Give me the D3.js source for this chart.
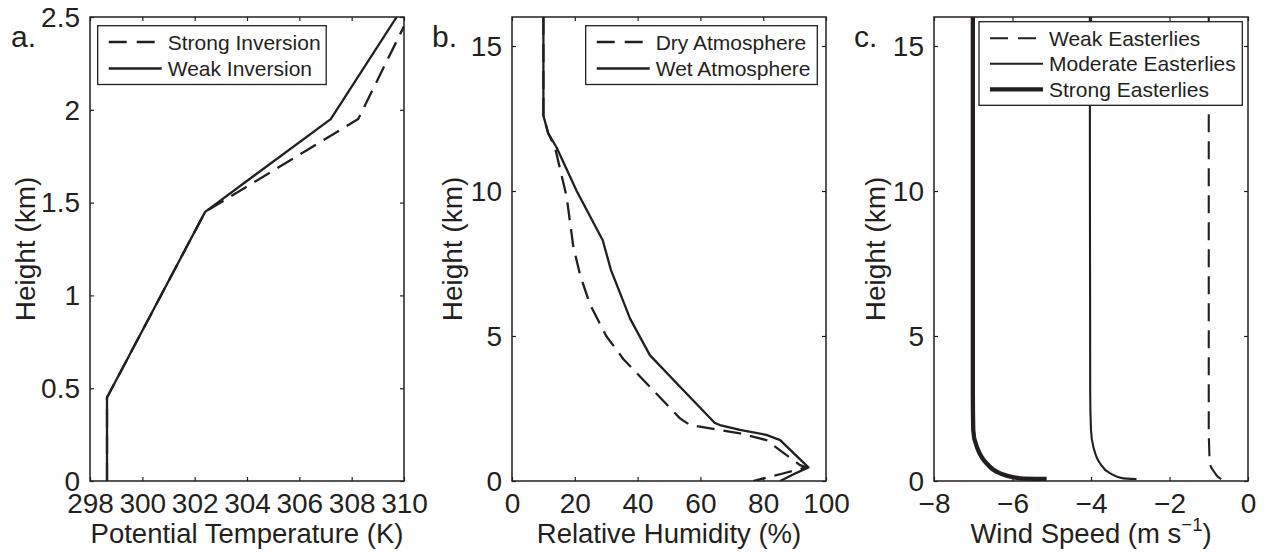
<!DOCTYPE html>
<html>
<head>
<meta charset="utf-8">
<script src="https://cdn.jsdelivr.net/npm/d3@7"></script>
<style>
  body { margin: 0; background: #fff; }
  svg text { font-family: "Liberation Sans", Arial, Helvetica, sans-serif; fill: #231f20; }
</style>
</head>
<body>
<div id="chart"></div>
<script>
// ---- data ----
// a. potential temperature profiles
const strongInvTheta = [298.65, 298.65, 302.4, 308.25, 310.0];
const strongInvZ     = [0, 0.45, 1.45, 1.95, 2.45];
const weakInvTheta   = [298.65, 298.65, 302.4, 307.2, 309.72];
const weakInvZ       = [0, 0.45, 1.45, 1.95, 2.5];
const thetaTicks = [298, 300, 302, 304, 306, 308, 310];
const thetaZTicks = [0, 0.5, 1, 1.5, 2, 2.5];

// b. relative humidity profiles
const dryZ  = [16, 12.6, 12.0, 11.5, 9.8, 8.1, 7.1, 6.1, 5.0, 4.2, 3.25, 2.16, 1.93, 1.64, 1.41, 0.55, 0.47, 0.25, 0];
const dryRH = [10, 10, 11.5, 13.7, 17.4, 19.5, 21.7, 24.8, 30.0, 35.5, 43.9, 53.5, 56.7, 72.6, 81.0, 91.7, 93.8, 86.0, 76.8];
const wetZ  = [16, 12.6, 12.0, 11.5, 10.0, 8.3, 7.28, 5.6, 4.34, 3.25, 2.0, 1.93, 1.76, 1.59, 1.41, 0.47, 0.25, 0];
const wetRH = [10, 10, 11.5, 14.2, 20.6, 28.9, 31.5, 37.6, 43.9, 53.5, 64.6, 66.2, 72.6, 81.0, 85.4, 94.4, 90.0, 85.4];
const rhTicks = [0, 20, 40, 60, 80, 100];

// c. wind profiles
const windZ       = [0.07, 0.09, 0.27, 0.61, 1.18, 1.76, 3, 16];
const weakWind    = [-0.68, -0.71, -0.84, -0.97, -0.99, -1.0, -1.0, -1.0];
const modWind     = [-2.84, -3.18, -3.52, -3.77, -3.94, -4.0, -4.02, -4.03];
const strongWind  = [-5.13, -5.81, -6.32, -6.66, -6.91, -7.0, -7.01, -7.01];
const windTicks = [-8, -6, -4, -2, 0];
const kmTicks = [0, 5, 10, 15];

// ---- layout ----
const W = 1266, H = 554;
const ink = "#231f20";
const plotTop = 17, plotBottom = 481, plotW = 314;
const dash = "18,9";

const svg = d3.select("#chart").append("svg")
  .attr("width", W).attr("height", H);

const zip = (xs, ys) => xs.map((x, i) => [x, ys[i]]);
const fmtMinus = d => d < 0 ? "\u2212" + Math.abs(d) : String(d);

const panels = [
  {
    id: "a", left: 90, label: "a.", labelX: 11, yLabelX: 35,
    xDomain: [298, 310], yDomain: [0, 2.5], xTicks: thetaTicks, yTicks: thetaZTicks,
    xLabel: "Potential Temperature (K)",
    series: [
      { name: "Strong Inversion", pts: zip(strongInvTheta, strongInvZ), dash: dash, w: 2.3 },
      { name: "Weak Inversion", pts: zip(weakInvTheta, weakInvZ), dash: null, w: 2.3 }
    ],
    legend: { x: 97.7, y: 25.7, w: 228.5, rowY: [42, 68.5] }
  },
  {
    id: "b", left: 512, label: "b.", labelX: 432, yLabelX: 462,
    xDomain: [0, 100], yDomain: [0, 16], xTicks: rhTicks, yTicks: kmTicks,
    xLabel: "Relative Humidity (%)",
    series: [
      { name: "Dry Atmosphere", pts: zip(dryRH, dryZ), dash: dash, w: 2.3 },
      { name: "Wet Atmosphere", pts: zip(wetRH, wetZ), dash: null, w: 2.3 }
    ],
    legend: { x: 585.7, y: 25.7, w: 231.6, rowY: [42, 68.5] }
  },
  {
    id: "c", left: 934, label: "c.", labelX: 854, yLabelX: 885,
    xDomain: [-8, 0], yDomain: [0, 16], xTicks: windTicks, yTicks: kmTicks,
    xLabel: null,
    series: [
      { name: "Weak Easterlies", pts: zip(weakWind, windZ), dash: dash, w: 2.1, curve: true },
      { name: "Moderate Easterlies", pts: zip(modWind, windZ), dash: null, w: 2.1, curve: true },
      { name: "Strong Easterlies", pts: zip(strongWind, windZ), dash: null, w: 4.3, curve: true }
    ],
    legend: { x: 979, y: 21.7, w: 263.3, rowY: [38.3, 63.8, 89.3] }
  }
];

panels.forEach(p => {
  const x = d3.scaleLinear().domain(p.xDomain).range([p.left, p.left + plotW]);
  const y = d3.scaleLinear().domain(p.yDomain).range([plotBottom, plotTop]);
  const g = svg.append("g");

  g.append("clipPath").attr("id", "clip-" + p.id)
    .append("rect").attr("x", p.left).attr("y", plotTop)
    .attr("width", plotW).attr("height", plotBottom - plotTop);

  // data lines
  const lines = g.append("g").attr("clip-path", `url(#clip-${p.id})`);
  p.series.forEach(s => {
    const line = d3.line().x(d => x(d[0])).y(d => y(d[1]))
      .curve(s.curve ? d3.curveMonotoneY : d3.curveLinear);
    lines.append("path")
      .attr("d", line(s.pts))
      .attr("fill", "none")
      .attr("stroke", ink)
      .attr("stroke-width", s.w)
      .attr("stroke-dasharray", s.dash)
      .attr("stroke-linejoin", "round");
  });

  // axes (matlab box style, ticks inward on all sides)
  const tl = 4;
  const axB = d3.axisBottom(x).tickValues(p.xTicks).tickSizeInner(-tl).tickSizeOuter(0).tickPadding(10).tickFormat(fmtMinus);
  const axT = d3.axisTop(x).tickValues(p.xTicks).tickSizeInner(-tl).tickSizeOuter(0).tickFormat("");
  const axL = d3.axisLeft(y).tickValues(p.yTicks).tickSizeInner(-tl).tickSizeOuter(0).tickPadding(10).tickFormat(fmtMinus);
  const axR = d3.axisRight(y).tickValues(p.yTicks).tickSizeInner(-tl).tickSizeOuter(0).tickFormat("");

  const styleAxis = sel => {
    sel.select(".domain").remove();
    sel.selectAll("line").attr("stroke", ink).attr("stroke-width", 1.2);
    sel.selectAll("text").attr("font-size", 28).attr("fill", ink)
      .style("font-family", "'Liberation Sans', Arial, sans-serif");
  };
  g.append("g").attr("transform", `translate(0,${plotBottom})`).call(axB).call(styleAxis)
    .selectAll("text").attr("dy", "0.8em");
  g.append("g").attr("transform", `translate(0,${plotTop})`).call(axT).call(styleAxis);
  g.append("g").attr("transform", `translate(${p.left},0)`).call(axL).call(styleAxis)
    .selectAll("text").attr("dy", "0.33em");
  g.append("g").attr("transform", `translate(${p.left + plotW},0)`).call(axR).call(styleAxis);

  // frame
  g.append("rect")
    .attr("x", p.left).attr("y", plotTop)
    .attr("width", plotW).attr("height", plotBottom - plotTop)
    .attr("fill", "none").attr("stroke", ink).attr("stroke-width", 1.5);

  // legend
  const L = p.legend;
  const lg = g.append("g");
  lg.append("rect")
    .attr("x", L.x).attr("y", L.y)
    .attr("width", L.w).attr("height", L.rowY[L.rowY.length - 1] - L.y + 16)
    .attr("fill", "#fff").attr("stroke", ink).attr("stroke-width", 1.3);
  p.series.forEach((s, i) => {
    const ry = L.rowY[i];
    lg.append("line")
      .attr("x1", L.x + 11).attr("x2", L.x + 64)
      .attr("y1", ry).attr("y2", ry)
      .attr("stroke", ink).attr("stroke-width", s.w)
      .attr("stroke-dasharray", s.dash ? "18,10" : null);
    lg.append("text")
      .attr("x", L.x + 70).attr("y", ry + 7.5)
      .attr("font-size", 21)
      .text(s.name);
  });

  // panel label
  svg.append("text").attr("x", p.labelX).attr("y", 47)
    .attr("font-size", 30).text(p.label);

  // y axis label
  svg.append("text")
    .attr("transform", `translate(${p.yLabelX},${(plotTop + plotBottom) / 2}) rotate(-90)`)
    .attr("text-anchor", "middle")
    .attr("font-size", 28)
    .text("Height (km)");

  // x axis label
  const xl = svg.append("text")
    .attr("x", p.left + plotW / 2).attr("y", 543)
    .attr("text-anchor", "middle")
    .attr("font-size", 27.5);
  if (p.xLabel) {
    xl.text(p.xLabel);
  } else {
    xl.append("tspan").text("Wind Speed (m s");
    xl.append("tspan").attr("font-size", 18.5).attr("dy", -12).text("\u22121");
    xl.append("tspan").attr("dy", 12).text(")");
  }
});
</script>
</body>
</html>
